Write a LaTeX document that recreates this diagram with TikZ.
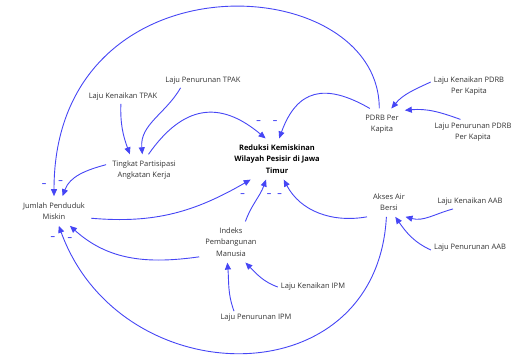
\documentclass[tikz,border=0pt]{standalone}
\usepackage{fontspec}
\setmainfont{Open Sans}
\usetikzlibrary{arrows.meta}
\definecolor{linkblue}{RGB}{70,70,245}
\definecolor{txtgray}{RGB}{50,50,50}
\tikzset{
	var/.style={align=center, inner sep=6pt, text=txtgray, font=\fontsize{7.5}{11.5}\selectfont},
	rate/.style={var, inner sep=3pt},
	goal/.style={var, text=black, font=\fontsize{7.5}{11.5}\selectfont\bfseries},
	link/.style={->, linkblue, line width=0.9pt},
	sign/.style={linkblue, font=\fontsize{9}{9}\selectfont\bfseries, inner sep=0pt}
}
\begin{document}
\begin{tikzpicture}[>={Triangle[length=7pt,width=6pt]}, x=1pt, y=1pt]
		\useasboundingbox (0,0) rectangle (514,-354);
		\node[goal] (red) at (277,-159) {Reduksi Kemiskinan\\Wilayah Pesisir di Jawa\\Timur};
		\node[var] (tpk) at (144,-170) {Tingkat Partisipasi\\Angkatan Kerja};
		\node[var] (jpm) at (54,-211) {Jumlah Penduduk\\Miskin};
		\node[var] (pdrb) at (382,-124) {PDRB Per\\Kapita};
		\node[var] (aks) at (389,-202) {Akses Air\\Bersi};
		\node[var] (ipm) at (231,-242) {Indeks\\Pembangunan\\Manusia};
		\node[rate] (lkt) at (123,-97) {Laju Kenaikan TPAK};
		\node[rate] (lpt) at (203,-81) {Laju Penurunan TPAK};
		\node[rate] (lkp) at (469,-86) {Laju Kenaikan PDRB\\Per Kapita};
		\node[rate] (lpp) at (473,-132) {Laju Penurunan PDRB\\Per Kapita};
		\node[rate] (lka) at (470,-202) {Laju Kenaikan AAB};
		\node[rate] (lpa) at (470,-248) {Laju Penurunan AAB};
		\node[rate] (lki) at (313,-287) {Laju Kenaikan IPM};
		\node[rate] (lpi) at (256,-318) {Laju Penurunan IPM};
		\draw[link] (lkt.-107) to[out=-92, in=110] (tpk.132);
		\draw[link] (lpt.-163) to[out=-120, in=95] (tpk.96);
		\draw[link] (tpk.74) to[out=55, in=140, looseness=1.3] (red.119) node[sign, shift={(-7,16)}] (m1) {--};
		\draw[link] (pdrb.128) to[out=150, in=70, looseness=1.4] (red.84) node[sign, shift={(-4,16)}] (m2) {--};
		\draw[link] (pdrb.100) .. controls +(90:140) and +(90:245) .. (jpm.north) node[sign, shift={(-10,11)}] (m3) {--};
		\draw[link] (tpk.172) to[out=195, in=70] (jpm.60) node[sign, shift={(-2,14)}] (m4) {--};
		\draw[link] (jpm.-11) to[out=-5, in=210] (red.-142) node[sign, shift={(-8,-15)}] (m5) {--};
		\draw[link] (ipm.55) to[out=70, in=-110] (red.-118) node[sign, shift={(3,-15)}] (m6) {--};
		\draw[link] (aks.-146) to[out=190, in=-62] (red.-72) node[sign, shift={(-4,-15)}] (m7) {--};
		\draw[link] (ipm.-155) to[out=188, in=-42] (jpm.-43) node[sign, shift={(0,-13)}] (m8) {--};
		\draw[link] (aks.-100) .. controls +(-93:182) and +(-70:180) .. (jpm.-72) node[sign, shift={(-6,-12)}] (m9) {--};
		\draw[link] (lki.west) to[out=160, in=-45] (ipm.-55);
		\draw[link] ([xshift=-22pt]lpi.north) to[out=110, in=-85] (ipm.-100);
		\draw[link] (lkp.174) to[out=205, in=50] (pdrb.59);
		\draw[link] (lpp.135) to[out=160, in=5] (pdrb.31);
		\draw[link] ([xshift=-17pt]lka.south) to[out=195, in=-15] (aks.-42);
		\draw[link] (lpa.183) to[out=155, in=-55] (aks.-67);
\end{tikzpicture}
\end{document}
